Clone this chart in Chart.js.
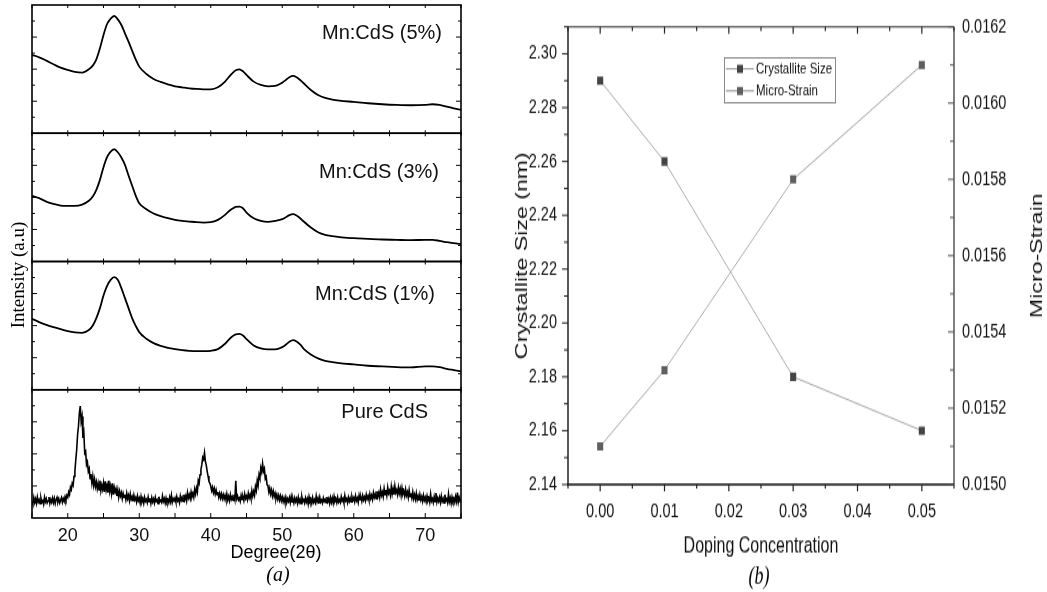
<!DOCTYPE html>
<html>
<head>
<meta charset="utf-8">
<title>Mn:CdS XRD and crystallite size</title>
<script src="https://cdn.jsdelivr.net/npm/chart.js@4.4.1/dist/chart.umd.min.js"></script>
<style>
  html, body { margin: 0; padding: 0; background: #fff; }
  body { width: 1047px; height: 592px; position: relative; overflow: hidden; }
  #xrd { position: absolute; left: 0; top: 0; }
  /* panel (b) is drawn short and stretched to full height, like the exported figure */
  #size { position: absolute; left: 490px; top: 0; transform: scaleY(1.3609); transform-origin: 0 0; }
</style>
</head>
<body>
<canvas id="xrd" width="490" height="592"></canvas>
<canvas id="size" width="557" height="435"></canvas>
<script>
// ---- (a) XRD patterns, 2-theta in degrees, intensity in arbitrary units ----
const xrdNames = ['Mn:CdS (5%)', 'Mn:CdS (3%)', 'Mn:CdS (1%)', 'Pure CdS'];
const xrdTicks = [20, 30, 40, 50, 60, 70];

const xrdDegrees = [15, 16, 17, 18, 19, 20, 21, 22, 23, 23.5, 24,
  24.5, 25, 25.5, 26, 26.5, 27, 27.5, 28, 28.5, 29, 29.5,
  30, 31, 32, 33, 34, 35, 36, 37, 38, 39, 40, 41, 42,
  42.5, 43, 43.5, 44, 44.5,
  45, 46, 47, 48, 49, 50,
  50.5, 51, 51.5, 52, 52.5,
  53, 54, 55, 56, 57, 58,
  60, 62, 64, 66, 68, 70,
  71, 72, 73, 74, 75];

const mnCdS5 = [235, 228, 218, 207, 197, 190, 184, 182, 193, 203, 222,
  255, 295, 328, 344, 352, 342, 325, 300, 275, 248, 222,
  200, 178, 163, 154, 147, 141, 138, 135, 133, 132, 132, 138, 155,
  168, 180, 189, 192, 186,
  175, 155, 145, 141, 142, 152,
  160, 168, 172, 168, 160,
  150, 130, 115, 106, 101, 98,
  94, 90, 87, 85, 84, 85,
  87, 85, 80, 75, 70];

const mnCdS3 = [197, 190, 180, 173, 168, 167, 167, 171, 183, 195, 215,
  245, 283, 313, 330, 337, 328, 312, 290, 258, 228, 198,
  175, 157, 144, 136, 130, 125, 122, 120, 118, 117, 118, 125, 140,
  150, 158, 164, 165, 160,
  147, 130, 122, 119, 122, 127,
  133, 139, 142, 138, 130,
  120, 102, 88, 80, 76, 73,
  70, 68, 66, 65, 64, 65,
  65, 62, 58, 55, 52];

const mnCdS1 = [213, 203, 195, 188, 182, 176, 172, 171, 180, 193, 215,
  245, 283, 312, 330, 338, 330, 305, 275, 245, 215, 192,
  173, 153, 140, 132, 126, 122, 119, 117, 116, 116, 117, 122, 138,
  150, 160, 166, 168, 163,
  152, 133, 124, 121, 121, 128,
  135, 144, 149, 145, 136,
  123, 106, 94, 87, 83, 80,
  76, 72, 70, 68, 67, 70,
  70, 68, 63, 59, 55];

// pure CdS step scan: 15 to 75 deg, 0.125 deg per step (one row per degree)
const pureScanStart = 15;
const pureScanStep = 0.125;
const pureCdS = [
  50, 42, 61, 46, 57, 44, 63, 48,
  55, 43, 60, 47, 52, 41, 62, 49,
  58, 45, 51, 63, 44, 56, 47, 60,
  46, 59, 43, 55, 62, 48, 57, 45,
  53, 61, 47, 58, 50, 64, 55, 68,
  62, 78, 70, 92, 85, 104, 98, 125,
  140, 175, 205, 250, 275, 315, 336, 290,
  305, 240, 255, 195, 200, 160, 168, 140,
  148, 118, 132, 105, 125, 98, 116, 94,
  108, 88, 104, 84, 112, 82, 99, 86,
  105, 78, 110, 84, 98, 76, 112, 80,
  96, 74, 104, 70, 92, 78, 88, 66,
  84, 62, 80, 66, 76, 58, 74, 62,
  70, 55, 74, 58, 68, 52, 72, 56,
  64, 50, 68, 54, 61, 48, 66, 52,
  60, 45, 64, 49, 58, 44, 62, 50,
  56, 46, 63, 49, 59, 44, 61, 48,
  57, 45, 62, 50, 55, 43, 64, 49,
  53, 47, 66, 50, 58, 45, 60, 48,
  55, 46, 62, 49, 68, 47, 58, 52,
  60, 48, 64, 51, 57, 46, 66, 53,
  62, 50, 70, 55, 66, 52, 76, 60,
  70, 58, 78, 64, 74, 62, 86, 72,
  90, 78, 112, 104, 130, 145, 160, 182,
  176, 196, 170, 158, 140, 126, 110, 104,
  96, 82, 92, 76, 88, 72, 84, 70,
  78, 62, 74, 60, 72, 58, 70, 57,
  68, 55, 72, 54, 65, 52, 70, 56,
  64, 53, 70, 56, 112, 58, 66, 54,
  60, 50, 68, 56, 63, 52, 72, 58,
  66, 55, 74, 60, 70, 58, 82, 66,
  80, 68, 94, 82, 112, 98, 130, 120,
  150, 138, 163, 140, 148, 118, 124, 100,
  96, 78, 90, 72, 84, 66, 80, 64,
  74, 58, 70, 56, 68, 54, 66, 52,
  63, 49, 60, 47, 62, 46, 58, 50,
  61, 46, 64, 48, 57, 45, 60, 49,
  58, 44, 62, 47, 56, 43, 63, 50,
  55, 45, 60, 48, 58, 42, 64, 51,
  57, 44, 61, 47, 55, 46, 66, 49,
  59, 43, 62, 48, 54, 45, 60, 50,
  56, 46, 63, 49, 58, 44, 61, 47,
  60, 45, 65, 50, 57, 46, 62, 48,
  55, 47, 64, 51, 58, 45, 67, 52,
  58, 46, 62, 50, 60, 48, 64, 53,
  61, 49, 66, 52, 60, 47, 68, 55,
  62, 50, 67, 54, 63, 52, 70, 57,
  66, 54, 72, 58, 68, 56, 76, 62,
  72, 58, 80, 64, 76, 62, 86, 68,
  78, 64, 88, 70, 84, 68, 92, 74,
  82, 68, 94, 72, 88, 70, 96, 76,
  84, 70, 92, 74, 88, 68, 90, 72,
  80, 66, 86, 68, 78, 62, 84, 64,
  74, 60, 78, 58, 70, 56, 74, 55,
  66, 52, 70, 54, 64, 50, 68, 53,
  62, 49, 66, 52, 60, 47, 72, 51,
  58, 46, 64, 49, 75, 48, 60, 50,
  62, 47, 66, 50, 58, 45, 70, 52,
  57, 46, 72, 49, 60, 44, 63, 51,
  59, 47, 64, 50, 76, 48, 62, 53,
  56
];

// ---- (b) crystallite size and micro-strain against Mn doping ----
const doping = [0.00, 0.01, 0.03, 0.05];
const crystalliteSize = [2.29, 2.26, 2.18, 2.16];
const microStrain = [0.0151, 0.0153, 0.0158, 0.0161];
const dopingTicks = [0.00, 0.01, 0.02, 0.03, 0.04, 0.05];
const sizeTicks = [2.14, 2.16, 2.18, 2.20, 2.22, 2.24, 2.26, 2.28, 2.30];
const strainTicks = [0.0150, 0.0152, 0.0154, 0.0156, 0.0158, 0.0160, 0.0162];

const SANS = '"Liberation Sans", Arial, sans-serif';
const SERIF = '"Liberation Serif", "Times New Roman", serif';

Chart.defaults.color = '#111';
Chart.defaults.font.family = SANS;

function strokeLine(ctx, x1, y1, x2, y2) {
  ctx.beginPath();
  ctx.moveTo(x1, y1);
  ctx.lineTo(x2, y2);
  ctx.stroke();
}

function setTicks(values) {
  return scale => { scale.ticks = values.map(v => ({ value: v })); };
}

function midpoints(values) {
  const out = [];
  for (let i = 0; i < values.length - 1; i++) out.push((values[i] + values[i + 1]) / 2);
  return out;
}

// ---------------- panel (a) ----------------
const panelOrder = ['y5', 'y3', 'y1', 'y0'];           // top to bottom
const labelOffsets = [[19, 28], [22, 39], [26, 33], [33, 23]];

const xrdDecor = {
  id: 'xrdDecor',
  afterDraw(chart) {
    const { ctx, chartArea: a, scales } = chart;
    const x = scales.x;
    const degTicks = xrdTicks.concat(midpoints(xrdTicks), [15, 75]);
    ctx.save();
    ctx.strokeStyle = '#000';
    panelOrder.forEach((id, k) => {
      const s = scales[id];
      ctx.lineWidth = 1.6;
      ctx.strokeRect(a.left, s.top, a.right - a.left, s.bottom - s.top);
      ctx.lineWidth = 1;
      for (let j = 1; j < 8; j++) {
        const y = s.getPixelForValue(s.max * j / 8);
        const len = j % 2 ? 3 : 5;
        strokeLine(ctx, a.left, y, a.left + len, y);
        strokeLine(ctx, a.right, y, a.right - len, y);
      }
      degTicks.forEach(d => {
        const px = x.getPixelForValue(d);
        strokeLine(ctx, px, s.top, px, s.top + 3);
        strokeLine(ctx, px, s.bottom, px, s.bottom - (k === 3 ? 5 : 3));
      });
      ctx.font = '20px ' + SANS;
      ctx.textAlign = 'right';
      ctx.textBaseline = 'middle';
      ctx.fillStyle = '#111';
      ctx.fillText(xrdNames[k], a.right - labelOffsets[k][0], s.top + labelOffsets[k][1]);
    });

    ctx.fillStyle = '#000';
    ctx.textAlign = 'center';
    ctx.textBaseline = 'middle';
    ctx.font = '18px ' + SANS;
    ctx.fillText('Degree(2\u03b8)', 276, 553);
    ctx.font = 'italic 20px ' + SERIF;
    ctx.fillText('(a)', 278, 576);

    ctx.save();
    ctx.translate(19, 275);
    ctx.rotate(-Math.PI / 2);
    ctx.font = '19px ' + SERIF;
    ctx.fillText('Intensity (a.u)', 0, 0);
    ctx.restore();
    ctx.restore();
  }
};

function xrdSeries(values, axis, width, smooth) {
  return {
    label: xrdNames[panelOrder.indexOf(axis)],
    data: values,
    yAxisID: axis,
    borderColor: '#000',
    borderWidth: width,
    pointRadius: 0,
    cubicInterpolationMode: smooth ? 'monotone' : 'default',
    tension: 0
  };
}

function panelAxis() {
  return {
    type: 'linear',
    position: 'left',
    stack: 'xrd',
    stackWeight: 1,
    min: 0,
    max: 385,
    ticks: { display: false },
    grid: { display: false, drawTicks: false },
    border: { display: false },
    afterFit: s => { s.width = 0; }
  };
}

new Chart(document.getElementById('xrd'), {
  type: 'line',
  data: {
    datasets: [
      xrdSeries(xrdDegrees.map((d, i) => ({ x: d, y: mnCdS5[i] })), 'y5', 1.8, true),
      xrdSeries(xrdDegrees.map((d, i) => ({ x: d, y: mnCdS3[i] })), 'y3', 1.8, true),
      xrdSeries(xrdDegrees.map((d, i) => ({ x: d, y: mnCdS1[i] })), 'y1', 1.8, true),
      xrdSeries(pureCdS.map((v, i) => ({ x: pureScanStart + i * pureScanStep, y: v })), 'y0', 1.6, false)
    ]
  },
  options: {
    responsive: false,
    animation: false,
    layout: { padding: { left: 32, right: 29, top: 5, bottom: 0 } },
    plugins: { legend: { display: false }, tooltip: { enabled: false } },
    scales: {
      x: {
        type: 'linear',
        min: 15,
        max: 75,
        afterBuildTicks: setTicks(xrdTicks),
        afterFit: s => { s.height = 74; },
        grid: { display: false, drawTicks: false },
        border: { display: false },
        ticks: { padding: 7, font: { size: 18 }, color: '#111' }
      },
      y0: panelAxis(),
      y1: panelAxis(),
      y3: panelAxis(),
      y5: panelAxis()
    }
  },
  plugins: [xrdDecor]
});

// ---------------- panel (b) ----------------
// canvas units here are vertically compressed; CSS stretches them back
const sizeDecor = {
  id: 'sizeDecor',
  afterDraw(chart) {
    const { ctx, chartArea: a, scales } = chart;
    const { x, y, y2 } = scales;
    ctx.save();

    // frame
    ctx.lineWidth = 1.1;
    ctx.strokeStyle = '#333';
    strokeLine(ctx, a.left, a.top, a.right, a.top);
    ctx.lineWidth = 1.5;
    ctx.strokeStyle = '#555';
    strokeLine(ctx, a.right, a.top, a.right, a.bottom);
    ctx.strokeStyle = '#222';
    strokeLine(ctx, a.left, a.top, a.left, a.bottom);
    ctx.lineWidth = 1.5;
    ctx.strokeStyle = '#111';
    strokeLine(ctx, a.left - 1, a.bottom, a.right, a.bottom);

    // ticks: bottom and left outward, top and right inward
    ctx.lineWidth = 1.2;
    ctx.strokeStyle = '#222';
    dopingTicks.forEach(v => {
      const px = x.getPixelForValue(v);
      strokeLine(ctx, px, a.bottom, px, a.bottom + 5);
      strokeLine(ctx, px, a.top, px, a.top + 5);
    });
    midpoints(dopingTicks).concat([-0.005, 0.055]).forEach(v => {
      const px = x.getPixelForValue(v);
      strokeLine(ctx, px, a.bottom, px, a.bottom + 3);
      strokeLine(ctx, px, a.top, px, a.top + 3);
    });
    ctx.lineWidth = 1;
    sizeTicks.forEach(v => {
      const py = y.getPixelForValue(v);
      strokeLine(ctx, a.left, py, a.left - 6, py);
    });
    midpoints(sizeTicks).concat([2.31]).forEach(v => {
      const py = y.getPixelForValue(v);
      strokeLine(ctx, a.left, py, a.left - 4, py);
    });
    ctx.strokeStyle = '#555';
    strainTicks.forEach(v => {
      const py = y2.getPixelForValue(v);
      strokeLine(ctx, a.right, py, a.right - 6, py);
    });
    midpoints(strainTicks).forEach(v => {
      const py = y2.getPixelForValue(v);
      strokeLine(ctx, a.right, py, a.right - 4, py);
    });

    // legend
    const lx = a.left + 156, ly = a.top + 22.8, lw = 111, lh = 33;
    ctx.lineWidth = 1;
    ctx.strokeStyle = '#8a8a8a';
    ctx.strokeRect(lx + 0.5, ly, lw, lh);
    ctx.font = '11.5px ' + SANS;
    ctx.textAlign = 'left';
    ctx.textBaseline = 'middle';
    chart.data.datasets.forEach((ds, i) => {
      const ry = ly + 8.1 + i * 16.2;
      ctx.strokeStyle = '#888';
      ctx.lineWidth = 0.9;
      strokeLine(ctx, lx + 2, ry, lx + 30, ry);
      ctx.fillStyle = ds.pointBackgroundColor;
      ctx.fillRect(lx + 13, ry - 3, 6, 6);
      ctx.fillStyle = '#111';
      ctx.fillText(ds.label, lx + 32, ry);
    });

    // rotated axis titles
    ctx.fillStyle = '#111';
    ctx.textAlign = 'center';
    [['Crystallite Size (nm)', 32], ['Micro-Strain', 547]].forEach(([text, tx]) => {
      ctx.save();
      ctx.translate(tx, (a.top + a.bottom) / 2);
      ctx.rotate(-Math.PI / 2);
      ctx.font = '17px ' + SANS;
      ctx.fillText(text, 0, 0);
      ctx.restore();
    });

    ctx.font = 'italic 18px ' + SERIF;
    ctx.fillStyle = '#000';
    ctx.fillText('(b)', 269, 424.5);
    ctx.restore();
  }
};

new Chart(document.getElementById('size'), {
  type: 'line',
  data: {
    datasets: [
      {
        label: 'Crystallite Size',
        data: doping.map((d, i) => ({ x: d, y: crystalliteSize[i] })),
        yAxisID: 'y',
        borderColor: '#a9a9a9',
        borderWidth: 1,
        pointStyle: 'rect',
        pointRadius: 4.3,
        pointBorderWidth: 0,
        pointBackgroundColor: '#444444'
      },
      {
        label: 'Micro-Strain',
        data: doping.map((d, i) => ({ x: d, y: microStrain[i] })),
        yAxisID: 'y2',
        borderColor: '#a9a9a9',
        borderWidth: 1,
        pointStyle: 'rect',
        pointRadius: 4.3,
        pointBorderWidth: 0,
        pointBackgroundColor: '#5f5f5f'
      }
    ]
  },
  options: {
    responsive: false,
    animation: false,
    layout: { padding: { left: 0, right: 0, top: 8, bottom: 0 } },
    plugins: { legend: { display: false }, tooltip: { enabled: false } },
    scales: {
      x: {
        type: 'linear',
        min: -0.005,
        max: 0.055,
        afterBuildTicks: setTicks(dopingTicks),
        afterFit: s => { s.height = 79; },
        grid: { display: false, drawTicks: false },
        border: { display: false },
        ticks: { padding: 11, font: { size: 14.5 }, callback: v => v.toFixed(2) },
        title: {
          display: true,
          text: 'Doping Concentration',
          font: { size: 16 },
          padding: { top: 0, bottom: 23.5 }
        }
      },
      y: {
        type: 'linear',
        position: 'left',
        min: 2.14,
        max: 2.31,
        afterBuildTicks: setTicks(sizeTicks),
        afterFit: s => { s.width = 78; },
        grid: { display: false, drawTicks: false },
        border: { display: false },
        ticks: { padding: 11, font: { size: 14.5 }, callback: v => v.toFixed(2) }
      },
      y2: {
        type: 'linear',
        position: 'right',
        min: 0.0150,
        max: 0.0162,
        afterBuildTicks: setTicks(strainTicks),
        afterFit: s => { s.width = 93; },
        grid: { display: false, drawTicks: false },
        border: { display: false },
        ticks: { padding: 8, font: { size: 14.5 }, callback: v => v.toFixed(4) }
      }
    }
  },
  plugins: [sizeDecor]
});
</script>
</body>
</html>
